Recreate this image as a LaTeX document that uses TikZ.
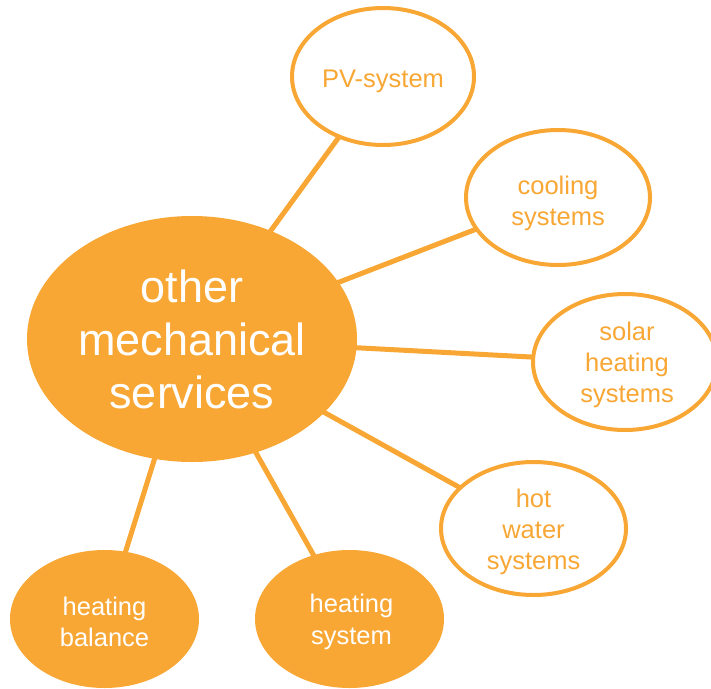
\documentclass[tikz,border=0pt]{standalone}
\usepackage{fontspec}
\setmainfont{Liberation Sans}
\usetikzlibrary{shapes.geometric,backgrounds}
\definecolor{org}{HTML}{F8A735}
\tikzset{
  hub/.style={ellipse, fill=org, inner sep=0pt, text=white, align=center,
    font=\fontsize{45}{53}\selectfont},
  leaf/.style={ellipse, draw=org, line width=4pt, fill=white, inner sep=0pt},
  leaffill/.style={ellipse, fill=org, inner sep=0pt},
  otxt/.style={text=org, align=center, inner sep=0pt, font=\fontsize{25.5}{31}\selectfont},
  wtxt/.style={text=white, align=center, inner sep=0pt, font=\fontsize{25.5}{31.5}\selectfont},
  link/.style={draw=org, line width=5pt}
}
\begin{document}
\begin{tikzpicture}[x=1pt,y=-1pt]
\useasboundingbox (0,0) rectangle (711,688);
\node[hub, minimum width=330pt, minimum height=246pt] (c) at (192,339) {other\\mechanical\\services};
\node[leaf, minimum width=182pt, minimum height=137pt,
  label={[otxt, yshift=-5pt]center:PV-system}] (pv) at (383,76.5) {};
\node[leaf, minimum width=184pt, minimum height=135pt,
  label={[otxt, yshift=-6pt]center:cooling\\systems}] (cool) at (558,197.5) {};
\node[leaf, minimum width=184pt, minimum height=136pt,
  label={[otxt, yshift=-2.5pt, xshift=2pt]center:solar\\heating\\systems}] (solar) at (625,362) {};
\node[leaf, minimum width=185pt, minimum height=133pt,
  label={[otxt, yshift=-3pt]center:hot\\water\\systems}] (hot) at (533.5,528.5) {};
\node[leaffill, minimum width=189pt, minimum height=138pt,
  label={[wtxt, yshift=-3pt]center:heating\\balance}] (hb) at (104.5,619) {};
\node[leaffill, minimum width=189pt, minimum height=138pt,
  label={[wtxt, yshift=-3pt, xshift=2pt]center:heating\\system}] (hs) at (349.5,619) {};
\begin{pgfonlayer}{background}
\draw[link] (c.center) -- (pv.center);
\draw[link] (c.center) -- (cool.center);
\draw[link] (c.center) -- (solar.center);
\draw[link] (c.center) -- (hot.center);
\draw[link] (c.center) -- (hb.center);
\draw[link] (c.center) -- (hs.center);
\end{pgfonlayer}
\end{tikzpicture}
\end{document}
